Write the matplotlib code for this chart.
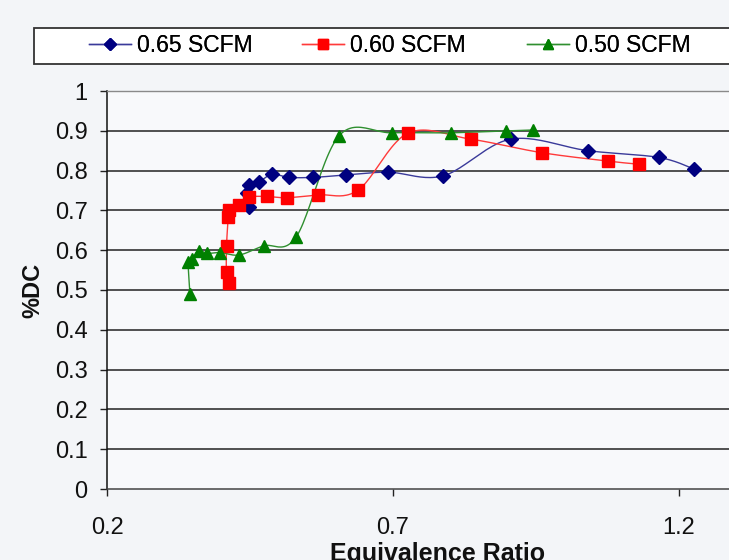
import numpy as np
import matplotlib
matplotlib.use("Agg")
import matplotlib.pyplot as plt
from matplotlib.patches import Rectangle

plt.rcParams['font.family'] = ['Liberation Sans', 'DejaVu Sans']

# ---- data ----
x_065 = [0.448, 0.444, 0.448, 0.466, 0.489, 0.518, 0.561, 0.617, 0.692, 0.788, 0.906, 1.041, 1.165, 1.226]
y_065 = [0.709, 0.743, 0.764, 0.772, 0.791, 0.783, 0.783, 0.789, 0.796, 0.787, 0.879, 0.850, 0.833, 0.804]

x_060 = [0.414, 0.409, 0.409, 0.412, 0.414, 0.430, 0.448, 0.479, 0.514, 0.569, 0.639, 0.726, 0.836, 0.960, 1.075, 1.130]
y_060 = [0.517, 0.546, 0.611, 0.684, 0.702, 0.713, 0.733, 0.735, 0.732, 0.739, 0.751, 0.894, 0.879, 0.845, 0.824, 0.816]

x_050 = [0.345, 0.342, 0.348, 0.360, 0.375, 0.398, 0.431, 0.474, 0.531, 0.606, 0.698, 0.801, 0.897, 0.944]
y_050 = [0.490, 0.571, 0.577, 0.599, 0.592, 0.594, 0.588, 0.611, 0.634, 0.888, 0.895, 0.895, 0.900, 0.902]

labels = ['0.65 SCFM', '0.60 SCFM', '0.50 SCFM']
x_ticks = [0.2, 0.7, 1.2]
y_ticks = [0, 0.1, 0.2, 0.3, 0.4, 0.5, 0.6, 0.7, 0.8, 0.9, 1]


def smooth(x, y, sx=572.0, sy=398.0, n=24):
    """Excel-like smoothed line (Catmull-Rom Bezier) computed in screen space."""
    P = np.column_stack([np.asarray(x) * sx, np.asarray(y) * sy])
    out = []
    for i in range(len(P) - 1):
        p0 = P[i - 1] if i > 0 else P[i]
        p1 = P[i]
        p2 = P[i + 1]
        p3 = P[i + 2] if i + 2 < len(P) else P[i + 1]
        c1 = p1 + (p2 - p0) / 6.0
        c2 = p2 - (p3 - p1) / 6.0
        t = np.linspace(0, 1, n)[:, None]
        seg = ((1 - t) ** 3) * p1 + 3 * ((1 - t) ** 2) * t * c1 + 3 * (1 - t) * t ** 2 * c2 + t ** 3 * p2
        out.append(seg if i == 0 else seg[1:])
    pts = np.vstack(out)
    return pts[:, 0] / sx, pts[:, 1] / sy


W, H = 729, 560
fig = plt.figure(figsize=(W / 100, H / 100), dpi=100)
fig.patch.set_facecolor('#f3f5f8')

left, right, bottom, top = 107, 768, 489, 91
ax = fig.add_axes([left / W, 1 - bottom / H, (right - left) / W, (bottom - top) / H])
ax.set_facecolor('#f8f9fb')
ax.set_xlim(0.2, 0.2 + (right - left) / 572.0)
ax.set_ylim(0, 1)

# grid lines
for yv in y_ticks[1:-1]:
    ax.axhline(yv, color='#222222', lw=1.1, zorder=1)

series = [
    (x_065, y_065, '#000080', '#3a3a9a', 'D', 7.0),
    (x_060, y_060, '#ff0000', '#ff3a3a', 's', 8.5),
    (x_050, y_050, '#008000', '#2f8f2f', '^', 9.0),
]
handles = []
for (xs, ys, mc, lc, mk, ms), lab in zip(series, labels):
    sxp, syp = smooth(xs, ys)
    ax.plot(sxp, syp, color=lc, lw=1.0, zorder=3)
    ax.plot(xs, ys, linestyle='none', marker=mk, markersize=ms, color=mc,
            markeredgecolor=mc, zorder=4)
    h, = ax.plot([], [], color=lc, lw=1.0, marker=mk, markersize=ms * 0.85,
                 markerfacecolor=mc, markeredgecolor=mc)
    handles.append(h)

# spines
ax.spines['right'].set_visible(False)
ax.spines['top'].set_color('#8a8a8a')
ax.spines['top'].set_linewidth(1.0)
ax.spines['left'].set_color('#111111')
ax.spines['left'].set_linewidth(1.1)
ax.spines['bottom'].set_color('#444444')
ax.spines['bottom'].set_linewidth(1.1)

ax.set_xticks(x_ticks)
ax.set_xticklabels([f'{v:g}' for v in x_ticks])
ax.set_yticks(y_ticks)
ax.set_yticklabels([f'{v:g}' for v in y_ticks])
ax.tick_params(axis='both', direction='out', length=5, width=1.0, color='#222222',
               labelsize=17, labelcolor='#111111')
ax.tick_params(axis='x', pad=15)
ax.tick_params(axis='y', pad=9)

ax.set_xlabel('Equivalence Ratio', fontsize=18, fontweight='bold', labelpad=2, color='#111111')
ax.set_ylabel('%DC', fontsize=17, fontweight='bold', color='#111111')
ax.yaxis.set_label_coords(-(107 - 44) / (right - left), 0.5)

# legend frame + legend entries
fig.patches.append(Rectangle((33.5 / W, 1 - 64 / H), (W + 20 - 33.5) / W, (64 - 27.5) / H,
                             transform=fig.transFigure, facecolor='white',
                             edgecolor='#333333', lw=1.3, zorder=0))
legend_x = [89, 302, 527]
for h, lab, lx in zip(handles, labels, legend_x):
    lg = fig.legend([h], [lab], loc='center left', bbox_to_anchor=(lx / W, 1 - 45.7 / H),
                    frameon=False, fontsize=16.5, handlelength=1.85, handletextpad=0.25,
                    borderpad=0, borderaxespad=0)
    fig.add_artist(lg)

fig.savefig('out.png', dpi=100, facecolor=fig.get_facecolor())
